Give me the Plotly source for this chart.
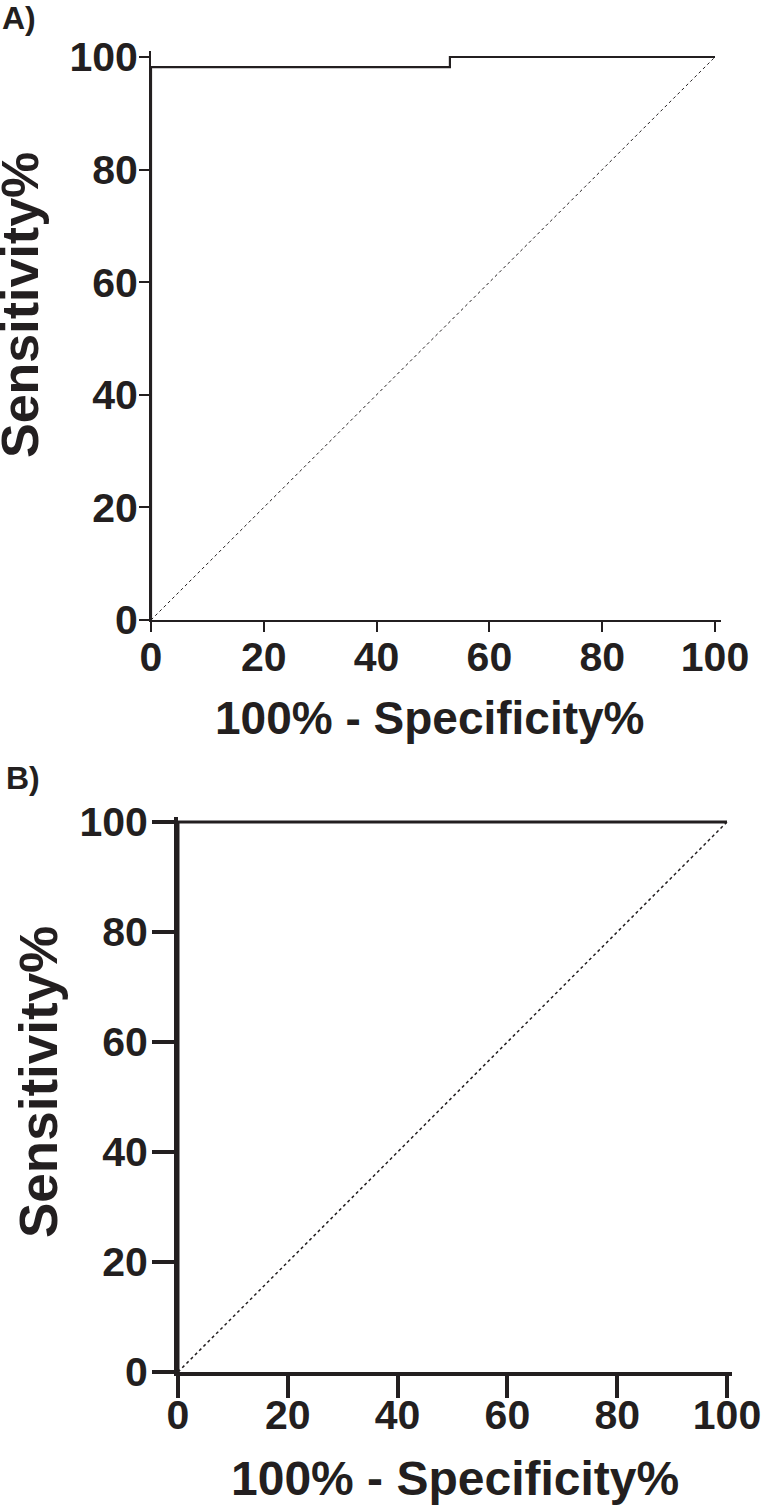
import plotly.graph_objects as go

W, H = 761, 1509
OFF = 0  # body margin removed via post_script below

# Panel A ROC data
roc_a_fpr = [0, 0, 53, 53, 100]
roc_a_sens = [0, 98.2, 98.2, 100, 100]
# Panel B ROC data
roc_b_fpr = [0, 0, 100]
roc_b_sens = [0, 100, 100]
# Reference (chance) line
ref_x = [0, 100]
ref_y = [0, 100]
tick_vals = [0, 20, 40, 60, 80, 100]
tick_text = ["0", "20", "40", "60", "80", "100"]
x_title = "100% - Specificity%"
y_title = "Sensitivity%"

INK = "#231f20"
FONT = "Liberation Sans, Arial, sans-serif"

def px_dom_x(a, b):
    return [(a - OFF) / W, (b - OFF) / W]

def px_dom_y(top, bottom):
    return [1 - (bottom - OFF) / H, 1 - (top - OFF) / H]

fig = go.Figure()

# Panel A
fig.add_trace(go.Scatter(x=ref_x, y=ref_y, mode="lines", xaxis="x", yaxis="y",
                         line=dict(color=INK, width=1, dash="dot"), showlegend=False))
fig.add_trace(go.Scatter(x=roc_a_fpr, y=roc_a_sens, mode="lines", xaxis="x", yaxis="y",
                         line=dict(color=INK, width=2.2), showlegend=False))
# Panel B
fig.add_trace(go.Scatter(x=ref_x, y=ref_y, mode="lines", xaxis="x2", yaxis="y2",
                         line=dict(color=INK, width=1.5, dash="dot"), showlegend=False))
fig.add_trace(go.Scatter(x=roc_b_fpr, y=roc_b_sens, mode="lines", xaxis="x2", yaxis="y2",
                         line=dict(color=INK, width=3), showlegend=False))

tickfont = dict(family=FONT, size=41, color=INK, weight="bold")

def axis_common(lw, tl, standoff):
    return dict(range=[0, 101], tickvals=tick_vals, ticktext=tick_text, ticks="outside",
                ticklen=tl, tickwidth=lw, tickcolor=INK, showline=True, linewidth=lw,
                linecolor=INK, showgrid=False, zeroline=False, tickfont=tickfont,
                fixedrange=True, automargin=False, ticklabelstandoff=standoff,
                ticklabeloverflow="allow")

# A: x 0->151, 100->715 ; y 0->620, 100->57
ax_a = 5.64
ay_a = 5.63
fig.update_layout(
    xaxis=dict(domain=px_dom_x(151, 151 + 101 * ax_a), anchor="y", **axis_common(2, 10, -10)),
    yaxis=dict(domain=px_dom_y(620 - 101 * ay_a, 620), anchor="x", **axis_common(2, 10, -7)),
)
# B: x 0->178, 100->727 ; y 0->1372, 100->822
bx = 5.49
by = 5.5
fig.update_layout(
    xaxis2=dict(domain=px_dom_x(178, 178 + 101 * bx), anchor="y2", **axis_common(4, 22, -18)),
    yaxis2=dict(domain=px_dom_y(1372 - 101 * by, 1372), anchor="x2", **axis_common(4, 22, -4)),
)

def ann(text, x, y, size, angle=0, xanchor="center"):
    fig.add_annotation(text=text, x=(x - OFF) / W, y=1 - (y - OFF) / H, xref="paper", yref="paper",
                       showarrow=False, textangle=angle, xanchor=xanchor, yanchor="middle",
                       font=dict(family=FONT, size=size, color=INK, weight="bold"))

ann("A)", 0, 18, 32, xanchor="left")
ann("B)", 4, 778, 32, xanchor="left")
ann(x_title, 430, 718, 46)
ann(y_title, 20, 305, 52, angle=-90)
ann(x_title, 455, 1478, 48)
ann(y_title, 38, 1082, 53, angle=-90)

fig.update_layout(width=W, height=H, margin=dict(l=0, r=0, t=0, b=0),
                  paper_bgcolor="white", plot_bgcolor="white", showlegend=False)

fig.write_html("out.html", config={"displayModeBar": False, "staticPlot": True},
               post_script="document.body.style.margin='0';document.body.style.overflow='hidden';")
